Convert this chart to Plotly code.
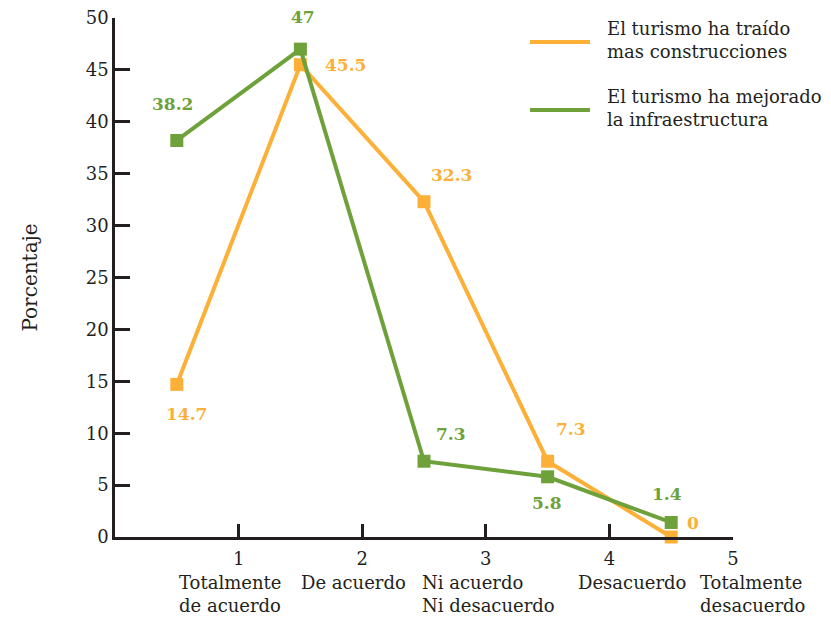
import plotly.graph_objects as go

# ---- data ----
x_pos = [0.5, 1.5, 2.5, 3.5, 4.5]
construcciones = [14.7, 45.5, 32.3, 7.3, 0]
infraestructura = [38.2, 47, 7.3, 5.8, 1.4]
series_names = ["El turismo ha traído<br>mas construcciones",
                "El turismo ha mejorado<br>la infraestructura"]
categories = ["Totalmente<br>de acuerdo", "De acuerdo", "Ni acuerdo<br>Ni desacuerdo",
              "Desacuerdo", "Totalmente<br>desacuerdo"]
x_ticks = [1, 2, 3, 4, 5]
y_ticks = list(range(0, 51, 5))

ORANGE = "#FDB038"
GREEN = "#6FA13B"
DARK = "#231F20"
FONT = "DejaVu Serif"

fig = go.Figure()
for vals, color in [(construcciones, ORANGE), (infraestructura, GREEN)]:
    fig.add_trace(go.Scatter(
        x=x_pos, y=vals, mode="lines+markers",
        line=dict(color=color, width=4),
        marker=dict(symbol="square", size=13, color=color),
        cliponaxis=False, showlegend=False, hoverinfo="skip"))

# data labels (offsets in pixels)
orange_off = [(10, -30), (45, 0), (27, 27), (23, 32), (22, 14)]
green_off = [(-4, 36), (3, 32), (27, 27), (-1, -26), (-4, 28)]
for vals, offs, color in [(construcciones, orange_off, ORANGE), (infraestructura, green_off, GREEN)]:
    for xv, yv, (dx, dy) in zip(x_pos, vals, offs):
        fig.add_annotation(x=xv, y=yv, text=f"<b>{yv:g}</b>", showarrow=False,
                           xshift=dx, yshift=dy,
                           font=dict(family=FONT, size=17, color=color))

# category labels below the axis
cat_x = [0.5, 1.485, 2.47, 3.73, 4.72]
for cx, lab in zip(cat_x, categories):
    fig.add_annotation(x=cx, y=0, yref="y", text=lab, showarrow=False,
                       xanchor="left", yanchor="top", align="left", yshift=-33,
                       font=dict(family=FONT, size=18, color=DARK))

# custom legend
W, H = 831, 620
ml, mr, mt, mb = 115, 98, 18, 83
pw, ph = W - ml - mr, H - mt - mb
def px(xp): return (xp - ml) / pw
def py(yp): return (H - mb - yp) / ph
for name, color, ly in [(series_names[0], ORANGE, 42), (series_names[1], GREEN, 110)]:
    fig.add_shape(type="line", xref="paper", yref="paper",
                  x0=px(530), x1=px(590), y0=py(ly), y1=py(ly),
                  line=dict(color=color, width=4))
    fig.add_annotation(xref="paper", yref="paper", x=px(605), y=py(ly - 2),
                       text=name, showarrow=False, xanchor="left", yanchor="middle",
                       align="left", font=dict(family=FONT, size=18, color=DARK))

fig.update_layout(
    width=W, height=H,
    margin=dict(l=ml, r=mr, t=mt, b=mb, autoexpand=False),
    paper_bgcolor="white", plot_bgcolor="white",
    font=dict(family=FONT, size=18, color=DARK),
    showlegend=False,
    xaxis=dict(range=[0, 5], tickvals=x_ticks, ticks="inside", ticklen=13,
               tickwidth=2.5, tickcolor=DARK, showline=True, linewidth=2.5,
               linecolor=DARK, showgrid=False, zeroline=False, ticklabelstandoff=4,
               tickfont=dict(family=FONT, size=18, color=DARK)),
    yaxis=dict(range=[0, 50], tickvals=y_ticks, ticks="inside", ticklen=15,
               tickwidth=2.5, tickcolor=DARK, showline=True, linewidth=2.5,
               linecolor=DARK, showgrid=False, zeroline=False,
               title=dict(text="Porcentaje", standoff=43,
                          font=dict(family=FONT, size=20, color=DARK)),
               tickfont=dict(family=FONT, size=18, color=DARK)),
)

fig.write_html("out.html", config={"displayModeBar": False},
               post_script="document.body.style.margin='0';")
